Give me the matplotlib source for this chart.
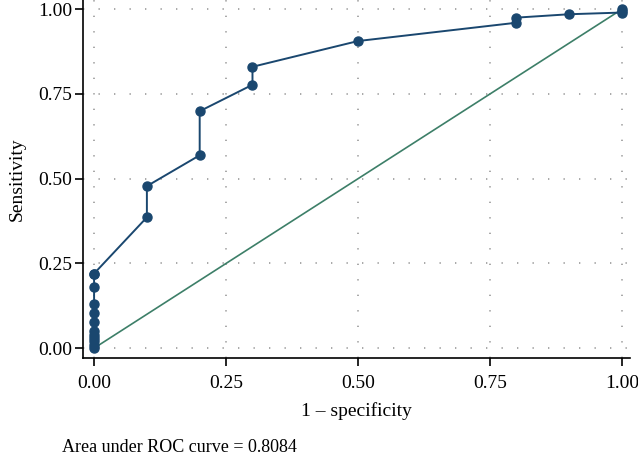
import matplotlib
matplotlib.use('Agg')
import matplotlib.pyplot as plt

plt.rcParams['font.family'] = ['Liberation Serif', 'DejaVu Serif']

# ROC points (1 - specificity, sensitivity)
fpr = [0.0, 0.0, 0.0, 0.0, 0.0, 0.0, 0.0, 0.0, 0.0, 0.0, 0.0, 0.0,
       0.1, 0.1, 0.2, 0.2, 0.3, 0.3, 0.5, 0.8, 0.8, 0.9, 1.0, 1.0, 1.0]
tpr = [0.0, 0.01, 0.02, 0.03, 0.04, 0.05, 0.077, 0.103, 0.13, 0.18, 0.22, 0.22,
       0.386, 0.478, 0.569, 0.699, 0.777, 0.83, 0.906, 0.96, 0.975, 0.985, 0.99, 0.995, 1.0]
auc = 0.8084

ticks = [0.0, 0.25, 0.5, 0.75, 1.0]
tick_labels = ['0.00', '0.25', '0.50', '0.75', '1.00']

navy = '#1a476f'
green = '#3d7f68'

fig = plt.figure(figsize=(6.38, 4.63), dpi=100)
ax = fig.add_axes([83/638, 1 - 358/463, (630 - 83)/638, 358/463])

for t in ticks:
    ax.axhline(t, color='#9a9a9a', linestyle=(0, (0.8, 8.5)), linewidth=1.2, zorder=0)
    ax.axvline(t, color='#9a9a9a', linestyle=(0, (0.8, 8.5)), linewidth=1.2, zorder=0)

ax.plot([0, 1], [0, 1], color=green, linewidth=1.2, zorder=2)
ax.plot(fpr, tpr, color=navy, linewidth=1.4, marker='o', markersize=6.5, zorder=3)

ax.set_xlim(-0.021, 1.015)
ax.set_ylim(-0.029, 1.027)
ax.set_xticks(ticks)
ax.set_xticklabels(tick_labels)
ax.set_yticks(ticks)
ax.set_yticklabels(tick_labels)
ax.tick_params(direction='out', length=5.5, width=1.2, labelsize=14, colors='black')
ax.tick_params(axis='x', pad=7)
ax.tick_params(axis='y', pad=2)
ax.spines['top'].set_visible(False)
ax.spines['right'].set_visible(False)
ax.spines['left'].set_linewidth(1.2)
ax.spines['bottom'].set_linewidth(1.2)

ax.set_xlabel('1 \u2013 specificity', fontsize=14, labelpad=7)
ax.set_ylabel('Sensitivity', fontsize=14, labelpad=9)

fig.text(62/638, 1 - 452/463, 'Area under ROC curve = %.4f' % auc, fontsize=13)

fig.savefig('out.png', dpi=100)
